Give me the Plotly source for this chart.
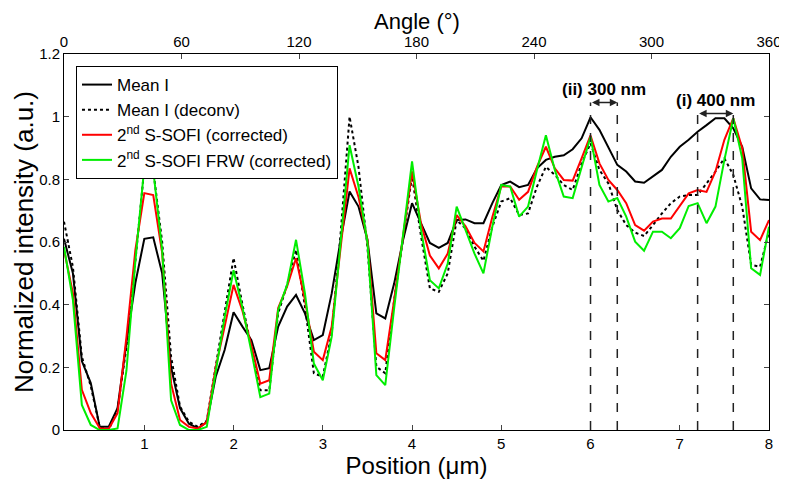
import plotly.graph_objects as go

# ---------------- data ----------------
position_um = [round(0.1 * k, 1) for k in range(1, 81)]

mean_i = [0.61, 0.50, 0.22, 0.15, 0.01, 0.01, 0.07, 0.28, 0.47, 0.61,
          0.615, 0.50, 0.20, 0.07, 0.02, 0.005, 0.025, 0.17, 0.255, 0.376,
          0.33, 0.287, 0.191, 0.197, 0.33, 0.394, 0.431, 0.372, 0.287, 0.303,
          0.436, 0.607, 0.761, 0.713, 0.607, 0.372, 0.356, 0.468, 0.607, 0.724,
          0.66, 0.597, 0.581, 0.597, 0.67, 0.672, 0.66, 0.66, 0.724, 0.782,
          0.793, 0.775, 0.782, 0.835, 0.862, 0.872, 0.877, 0.896, 0.931, 0.998,
          0.958, 0.904, 0.846, 0.825, 0.793, 0.789, 0.809, 0.83, 0.872, 0.904,
          0.926, 0.952, 0.973, 0.995, 0.995, 0.963, 0.904, 0.771, 0.736, 0.734]

mean_i_deconv = [0.665, 0.52, 0.234, 0.14, 0.01, 0.0, 0.064, 0.265, 0.54, 0.836,
                 0.83, 0.60, 0.234, 0.075, 0.026, 0.01, 0.03, 0.20, 0.383, 0.549,
                 0.40, 0.26, 0.127, 0.127, 0.372, 0.463, 0.575, 0.394, 0.181, 0.17,
                 0.309, 0.628, 1.0, 0.84, 0.585, 0.202, 0.181, 0.415, 0.607, 0.81,
                 0.62, 0.452, 0.441, 0.50, 0.67, 0.643, 0.585, 0.54, 0.649, 0.729,
                 0.74, 0.686, 0.691, 0.777, 0.84, 0.814, 0.782, 0.766, 0.85, 0.915,
                 0.83, 0.787, 0.702, 0.654, 0.63, 0.619, 0.654, 0.691, 0.724, 0.745,
                 0.75, 0.75, 0.787, 0.825, 0.867, 0.814, 0.713, 0.527, 0.521, 0.633]

ssofi = [0.575, 0.437, 0.128, 0.054, 0.006, 0.003, 0.054, 0.297, 0.575, 0.756,
         0.75, 0.565, 0.148, 0.032, 0.01, 0.005, 0.025, 0.20, 0.33, 0.463,
         0.38, 0.27, 0.148, 0.159, 0.389, 0.458, 0.548, 0.415, 0.25, 0.223,
         0.33, 0.575, 0.835, 0.744, 0.607, 0.245, 0.223, 0.415, 0.628, 0.825,
         0.66, 0.557, 0.516, 0.563, 0.686, 0.65, 0.597, 0.57, 0.68, 0.777,
         0.777, 0.735, 0.76, 0.84, 0.904, 0.835, 0.798, 0.796, 0.867, 0.94,
         0.851, 0.798, 0.766, 0.724, 0.654, 0.636, 0.665, 0.675, 0.675, 0.713,
         0.755, 0.766, 0.76, 0.825, 0.926, 0.995, 0.899, 0.633, 0.606, 0.67]

ssofi_frw = [0.585, 0.415, 0.08, 0.016, 0.0, 0.0, 0.005, 0.19, 0.54, 0.84,
             0.83, 0.575, 0.095, 0.016, 0.0, 0.0, 0.01, 0.19, 0.36, 0.51,
             0.39, 0.25, 0.105, 0.116, 0.383, 0.463, 0.607, 0.436, 0.212, 0.159,
             0.298, 0.60, 0.909, 0.777, 0.60, 0.175, 0.143, 0.39, 0.62, 0.857,
             0.64, 0.478, 0.452, 0.531, 0.713, 0.638, 0.563, 0.50, 0.649, 0.782,
             0.777, 0.681, 0.713, 0.83, 0.941, 0.83, 0.745, 0.74, 0.84, 0.936,
             0.782, 0.729, 0.74, 0.681, 0.601, 0.572, 0.633, 0.633, 0.612, 0.644,
             0.715, 0.724, 0.66, 0.713, 0.862, 0.995, 0.867, 0.516, 0.495, 0.649]

# resolution markers: (label, left position, right position, marker height)
resolution_labels = ["(ii) 300 nm", "(i) 400 nm"]
resolution_left = [6.0, 7.2]
resolution_right = [6.3, 7.6]
resolution_height = [1.045, 1.01]

x_ticks = [1, 2, 3, 4, 5, 6, 7, 8]
y_ticks = [0, 0.2, 0.4, 0.6, 0.8, 1.0, 1.2]
y_tick_text = ["0", "0.2", "0.4", "0.6", "0.8", "1", "1.2"]
angle_ticks = [0, 60, 120, 180, 240, 300, 360]

FONT = "Liberation Sans, Arial, sans-serif"

fig = go.Figure()
fig.add_trace(go.Scatter(x=position_um, y=mean_i, mode="lines", name="Mean I",
                         line=dict(color="black", width=2)))
fig.add_trace(go.Scatter(x=position_um, y=mean_i_deconv, mode="lines", name="Mean I (deconv)",
                         line=dict(color="black", width=2, dash="dot")))
fig.add_trace(go.Scatter(x=position_um, y=ssofi, mode="lines",
                         name="2<sup>nd</sup> S-SOFI (corrected)",
                         line=dict(color="#ff0000", width=2)))
fig.add_trace(go.Scatter(x=position_um, y=ssofi_frw, mode="lines",
                         name="2<sup>nd</sup> S-SOFI FRW (corrected)",
                         line=dict(color="#00ee00", width=2)))
# invisible trace to host the top angle axis
fig.add_trace(go.Scatter(x=[angle_ticks[0], angle_ticks[-1]], y=[None, None], xaxis="x2",
                         mode="lines", showlegend=False, hoverinfo="skip"))

for lab, xl, xr, h in zip(resolution_labels, resolution_left, resolution_right, resolution_height):
    for xv in (xl, xr):
        fig.add_shape(type="line", x0=xv, x1=xv, y0=0, y1=h, xref="x", yref="y",
                      line=dict(color="#222222", width=1.5, dash="dash"))
    fig.add_annotation(x=xr, y=h, ax=xl, ay=h, xref="x", yref="y", axref="x", ayref="y",
                       text="", showarrow=True, arrowhead=2, startarrowhead=2,
                       arrowside="end+start", arrowsize=1, arrowwidth=1.5, arrowcolor="#222222",
                       standoff=0, startstandoff=0)
    fig.add_annotation(x=(xl + xr) / 2, y=h, xref="x", yref="y", text="<b>" + lab + "</b>",
                       showarrow=False, yshift=13, font=dict(family=FONT, size=17, color="black"))

# y-axis title as a centred rotated annotation
fig.add_annotation(x=0, y=0.5, xref="paper", yref="paper", xanchor="center", yanchor="middle",
                   xshift=-40, textangle=-90, showarrow=False,
                   text="Normalized intensity (a.u.)", font=dict(family=FONT, size=26, color="black"))
# top axis title
fig.add_annotation(x=0.5, y=1, xref="paper", yref="paper", xanchor="center", yanchor="middle",
                   yshift=33, showarrow=False,
                   text="Angle (\u00b0)", font=dict(family=FONT, size=22, color="black"))

# page body adds an 8px offset, so the figure is 8px smaller than the window
fig.update_layout(
    width=779, height=475,
    margin=dict(l=56, r=18, t=46, b=53, autoexpand=False),
    paper_bgcolor="white", plot_bgcolor="white",
    font=dict(family=FONT, size=14, color="black"),
    xaxis=dict(range=[0.1, 8], tickvals=x_ticks, ticks="inside", ticklen=5,
               showline=True, linecolor="black", linewidth=1, mirror=True,
               showgrid=False, zeroline=False, automargin=False,
               title=dict(text="Position (\u03bcm)", font=dict(size=24), standoff=2),
               tickfont=dict(size=15)),
    xaxis2=dict(range=[0, 360], tickvals=angle_ticks, ticks="inside", ticklen=5,
                overlaying="x", side="top", anchor="y",
                showline=True, linecolor="black", linewidth=1,
                showgrid=False, zeroline=False, automargin=False,
                tickfont=dict(size=15)),
    yaxis=dict(range=[0, 1.2], tickvals=y_ticks, ticktext=y_tick_text, ticks="inside", ticklen=5,
               showline=True, linecolor="black", linewidth=1, mirror="ticks",
               showgrid=False, zeroline=False, automargin=False,
               tickfont=dict(size=15)),
    legend=dict(x=0.017, y=0.968, xanchor="left", yanchor="top",
                bgcolor="white", bordercolor="black", borderwidth=1,
                font=dict(family=FONT, size=17, color="black"),
                tracegroupgap=0, itemwidth=30),
    showlegend=True,
)

fig.write_html("out.html")
